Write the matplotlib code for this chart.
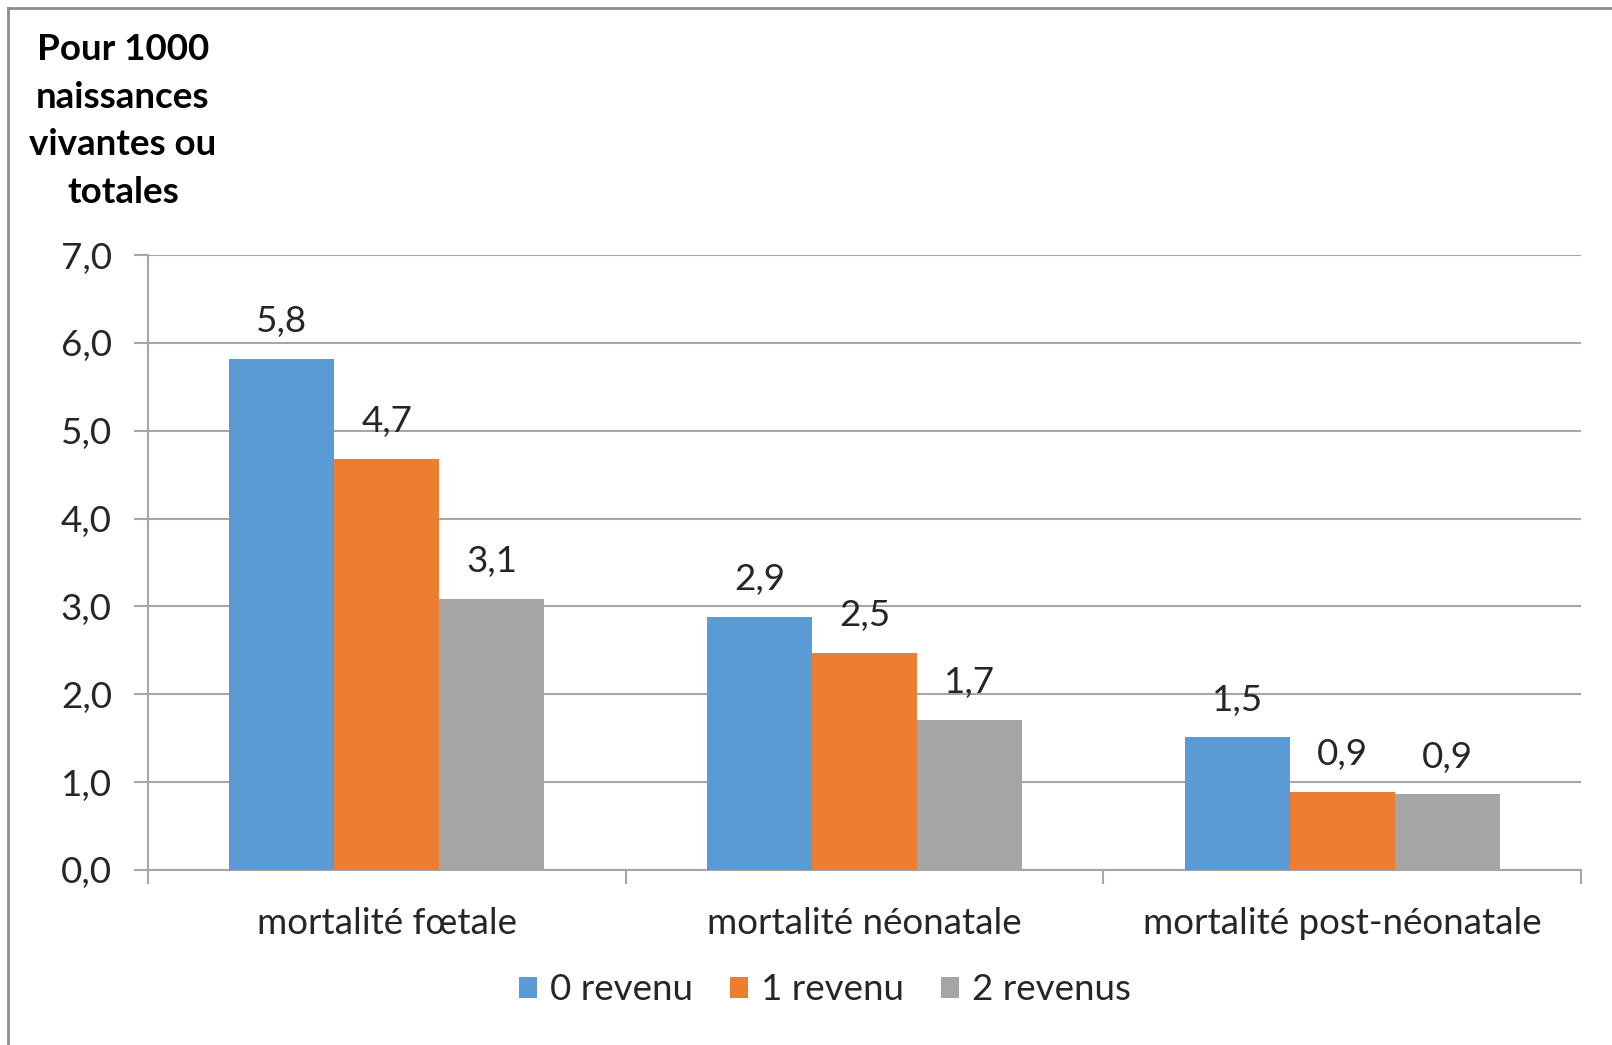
import matplotlib

matplotlib.use("Agg")

import matplotlib.pyplot as plt
import numpy as np
from matplotlib.lines import Line2D
from matplotlib.patches import Patch

categories = ["mortalité fœtale", "mortalité néonatale", "mortalité post-néonatale"]
series_names = ["0 revenu", "1 revenu", "2 revenus"]
zero_income = [5.82, 2.88, 1.51]
one_income = [4.68, 2.47, 0.89]
two_incomes = [3.09, 1.71, 0.86]
y_ticks = [0.0, 1.0, 2.0, 3.0, 4.0, 5.0, 6.0, 7.0]
y_title = "Pour 1000\nnaissances\nvivantes ou\ntotales"

colors = ["#5B9BD5", "#ED7D31", "#A5A5A5"]
grid_color = "#A6A6A6"
text_color = "#262626"
fs = 26.5


def fmt(v: float) -> str:
    return f"{v:.1f}".replace(".", ",")


plt.rcParams["font.family"] = ["Lato", "DejaVu Sans"]

W, H = 1612, 1045
fig = plt.figure(figsize=(W / 100, H / 100), dpi=100)
fig.patch.set_facecolor("white")

ax = fig.add_axes([148 / W, 1 - 870 / H, (1581 - 148) / W, (870 - 255) / H])

x = np.arange(len(categories))
width = 0.22
values = [zero_income, one_income, two_incomes]
for i, (vals, color) in enumerate(zip(values, colors)):
    pos = x + (i - 1) * width
    ax.bar(pos, vals, width=width, color=color, zorder=3, linewidth=0)
    for xp, v in zip(pos, vals):
        ax.annotate(fmt(v), (xp, v), xytext=(0, 15), textcoords="offset points",
                    ha="center", va="bottom", fontsize=fs, color=text_color)

ax.set_xlim(-0.5, len(categories) - 0.5)
ax.set_ylim(0, 7)
ax.set_yticks(y_ticks)
ax.set_yticklabels([fmt(t) for t in y_ticks], fontsize=fs, color=text_color)
ax.yaxis.grid(True, color=grid_color, linewidth=1.5, zorder=0)
ax.set_axisbelow(True)

# category labels centred, ticks at category boundaries
ax.set_xticks(x)
ax.set_xticklabels(categories, fontsize=fs, color=text_color)
ax.tick_params(axis="x", length=0, pad=27)
ax.set_xticks(np.arange(len(categories) + 1) - 0.5, minor=True)
ax.tick_params(axis="x", which="minor", length=10, width=1.5, color=grid_color)
ax.tick_params(axis="y", length=10, width=1.5, color=grid_color, pad=16)

for side in ["top", "right"]:
    ax.spines[side].set_visible(False)
for side in ["left", "bottom"]:
    ax.spines[side].set_color(grid_color)
    ax.spines[side].set_linewidth(1.5)

fig.text(123 / W, 1 - 121 / H, y_title, ha="center", va="center", fontsize=fs,
         fontweight="bold", color="black", linespacing=1.54)

handles = [Patch(facecolor=c, edgecolor="none") for c in colors]
fig.legend(handles, series_names, loc="center", bbox_to_anchor=(825 / W, 1 - 990 / H),
           ncol=3, frameon=False, fontsize=fs, handlelength=0.5, handleheight=0.5,
           handletextpad=0.35, columnspacing=1.0, labelcolor=text_color)

# outer chart frame (left and top edges)
fig.add_artist(Line2D([8 / W, 8 / W], [0, 1 - 8 / H], color="#8C8C8C", linewidth=2))
fig.add_artist(Line2D([8 / W, 1], [1 - 8 / H, 1 - 8 / H], color="#8C8C8C", linewidth=2))

fig.savefig("out.png", dpi=100, facecolor="white")
